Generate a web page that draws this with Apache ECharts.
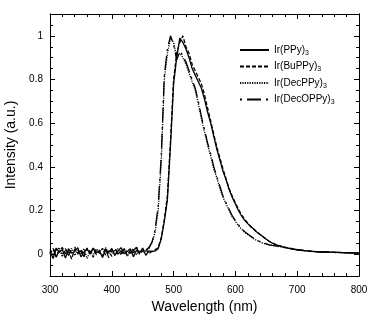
<!DOCTYPE html>
<html><head><meta charset="utf-8">
<script src="https://cdn.jsdelivr.net/npm/echarts@6/dist/echarts.min.js"></script>
<style>html,body{margin:0;padding:0;background:#fff}#c{width:378px;height:328px}</style>
</head><body><div id="c"></div>
<script>
// wavelength grid, 5 nm steps, 300..800
const wavelengths = [];
for (let w = 300; w <= 800; w += 5) wavelengths.push(w);

const seriesNames = ['Ir(PPy)3', 'Ir(BuPPy)3', 'Ir(DecPPy)3', 'Ir(DecOPPy)3'];

const ppy = [
0.012,-0.02,0.028,0.008,0.022,-0.018,0.025,0.005,0.012,0.03,-0.012,0.01,0.024,0.0,0.027,0.007,0.016,-0.015,0.02,0.009,0.026,-0.006,0.014,0.03,0.002,0.012,0.025,-0.012,0.018,0.006,0.028,-0.005,0.015,0.012,
0.015,0.025,0.07,0.15,0.25,0.5,0.78,0.9,0.99,0.97,
0.94,0.9,0.85,0.82,0.79,0.76,0.71,0.65,0.6,0.54,
0.48,0.43,0.38,0.34,0.295,0.26,0.23,0.2,0.175,0.155,
0.14,0.125,0.115,0.1,0.09,0.08,0.068,0.058,0.05,0.044,
0.039,0.035,0.031,0.028,0.025,0.022,0.02,0.018,0.016,0.015,
0.014,0.013,0.012,0.011,0.011,0.01,0.009,0.009,0.008,0.008,
0.007,0.007,0.007,0.006,0.006,0.006,0.005];

const buppy = [
0.0,0.026,-0.01,0.018,0.03,0.002,0.016,-0.022,0.024,0.006,0.02,-0.008,0.028,0.011,-0.014,0.019,0.004,0.027,-0.004,0.015,-0.01,0.024,0.008,0.0,0.026,-0.006,0.018,0.006,0.032,0.0,0.016,0.022,0.002,0.014,
0.02,0.03,0.075,0.16,0.27,0.52,0.8,0.92,0.97,1.0,
0.95,0.92,0.87,0.84,0.81,0.78,0.73,0.67,0.61,0.55,
0.49,0.44,0.39,0.345,0.3,0.265,0.235,0.205,0.18,0.16,
0.142,0.127,0.113,0.1,0.09,0.079,0.068,0.059,0.051,0.045,
0.04,0.036,0.032,0.029,0.026,0.023,0.021,0.019,0.017,0.016,
0.014,0.013,0.012,0.012,0.011,0.01,0.01,0.009,0.009,0.008,
0.008,0.007,0.007,0.006,0.006,0.006,0.006];

const decppy = [
0.022,-0.004,0.015,0.03,-0.012,0.02,0.004,0.027,-0.006,0.018,0.002,0.026,-0.02,0.014,0.0,0.024,0.01,-0.008,0.03,0.003,0.019,-0.004,0.026,0.006,0.02,-0.01,0.014,0.025,-0.002,0.016,0.01,
0.015,0.025,0.05,0.1,0.2,0.42,0.8,0.92,0.99,0.97,
0.9,0.92,0.9,0.87,0.83,0.79,0.75,0.69,0.62,0.56,
0.5,0.45,0.39,0.35,0.3,0.26,0.23,0.2,0.17,0.15,
0.13,0.115,0.1,0.09,0.08,0.07,0.062,0.056,0.05,0.046,
0.042,0.04,0.038,0.035,0.033,0.03,0.027,0.025,0.022,0.02,
0.018,0.016,0.015,0.013,0.012,0.011,0.011,0.01,0.009,0.009,
0.008,0.008,0.007,0.007,0.007,0.006,0.006,0.006,0.005,0.005];

const decoppy = [
0.006,0.028,-0.014,0.017,0.002,0.026,-0.006,0.02,0.034,0.0,0.016,-0.012,0.024,0.004,0.028,-0.003,0.018,0.002,0.025,-0.016,0.014,0.027,0.0,0.016,-0.005,0.024,0.004,0.018,0.03,0.003,0.02,
0.02,0.03,0.055,0.11,0.22,0.45,0.82,0.94,1.0,0.96,
0.89,0.93,0.91,0.88,0.84,0.8,0.76,0.7,0.63,0.57,
0.51,0.46,0.4,0.355,0.31,0.265,0.235,0.205,0.175,0.155,
0.135,0.118,0.103,0.092,0.082,0.072,0.064,0.058,0.052,0.047,
0.043,0.04,0.038,0.035,0.033,0.03,0.027,0.025,0.023,0.021,
0.019,0.017,0.015,0.014,0.012,0.011,0.011,0.01,0.01,0.009,
0.008,0.008,0.008,0.007,0.007,0.006,0.006,0.006,0.005,0.005];

const xTicks = [300, 400, 500, 600, 700, 800];
const yTicks = [0, 0.2, 0.4, 0.6, 0.8, 1];

const allValues = [ppy, buppy, decppy, decoppy];
const dashes = ['solid', [4, 2], [1.2, 1.2], [2, 5, 14, 5]];

const FONT = 'Liberation Sans';
const chart = echarts.init(document.getElementById('c'), null, {renderer: 'canvas'});

const yBase = {type: 'value', min: -0.1, max: 1.1, splitLine: {show: false},
  axisLine: {show: true, onZero: false, lineStyle: {color: '#000', width: 1}}};
const xBase = {type: 'value', min: 300, max: 800, interval: 100, splitLine: {show: false},
  axisLine: {show: true, onZero: false, lineStyle: {color: '#000', width: 1}},
  axisTick: {inside: true, length: 5, lineStyle: {color: '#000'}},
  minorTick: {show: true, splitNumber: 5, length: 3, lineStyle: {color: '#000'}}};

chart.setOption({
  animation: false,
  backgroundColor: '#fff',
  grid: {left: 50, right: 19, top: 14, bottom: 52, containLabel: false, outerBoundsMode: 'none'},
  legend: {
    orient: 'vertical', left: 239, top: 44, padding: 0, itemWidth: 29, itemHeight: 10, itemGap: 4,
    data: seriesNames,
    itemStyle: {opacity: 0},
    formatter: n => n.replace(/3$/, '{s|3}'),
    textStyle: {fontFamily: FONT, fontSize: 10, color: '#000', lineHeight: 12,
      rich: {s: {fontFamily: FONT, fontSize: 7, color: '#000', padding: [6, 0, 0, 0]}}}
  },
  xAxis: [
    Object.assign({}, xBase, {position: 'bottom', name: 'Wavelength (nm)', nameLocation: 'middle', nameGap: 23,
      nameTextStyle: {fontFamily: FONT, fontSize: 14, color: '#000'},
      axisLabel: {fontFamily: FONT, fontSize: 10, color: '#000', margin: 9, customValues: xTicks}}),
    Object.assign({}, xBase, {position: 'top', axisLabel: {show: false}})
  ],
  yAxis: [
    Object.assign({}, yBase, {position: 'left', offset: 0, name: 'Intensity (a.u.)', nameLocation: 'middle', nameGap: 28,
      nameTextStyle: {fontFamily: FONT, fontSize: 14, color: '#000'},
      axisTick: {inside: true, length: 5, customValues: yTicks, lineStyle: {color: '#000'}},
      axisLabel: {fontFamily: FONT, fontSize: 10, color: '#000', margin: 7, customValues: yTicks}}),
    Object.assign({}, yBase, {position: 'left', offset: 0, interval: 0.05,
      axisTick: {inside: true, length: 3, lineStyle: {color: '#000'}}, axisLabel: {show: false}}),
    Object.assign({}, yBase, {position: 'right', offset: 0,
      axisTick: {inside: true, length: 5, customValues: yTicks, lineStyle: {color: '#000'}},
      axisLabel: {show: false, customValues: yTicks}}),
    Object.assign({}, yBase, {position: 'right', offset: 0, interval: 0.05,
      axisTick: {inside: true, length: 3, lineStyle: {color: '#000'}}, axisLabel: {show: false}})
  ],
  series: seriesNames.map((name, i) => ({
    name, type: 'line', xAxisIndex: 0, yAxisIndex: 0, symbol: 'none',
    lineStyle: {color: '#000', width: 1.3, type: dashes[i]},
    itemStyle: {color: '#000'},
    data: wavelengths.map((w, k) => [w, allValues[i][k]])
  }))
});
</script></body></html>
